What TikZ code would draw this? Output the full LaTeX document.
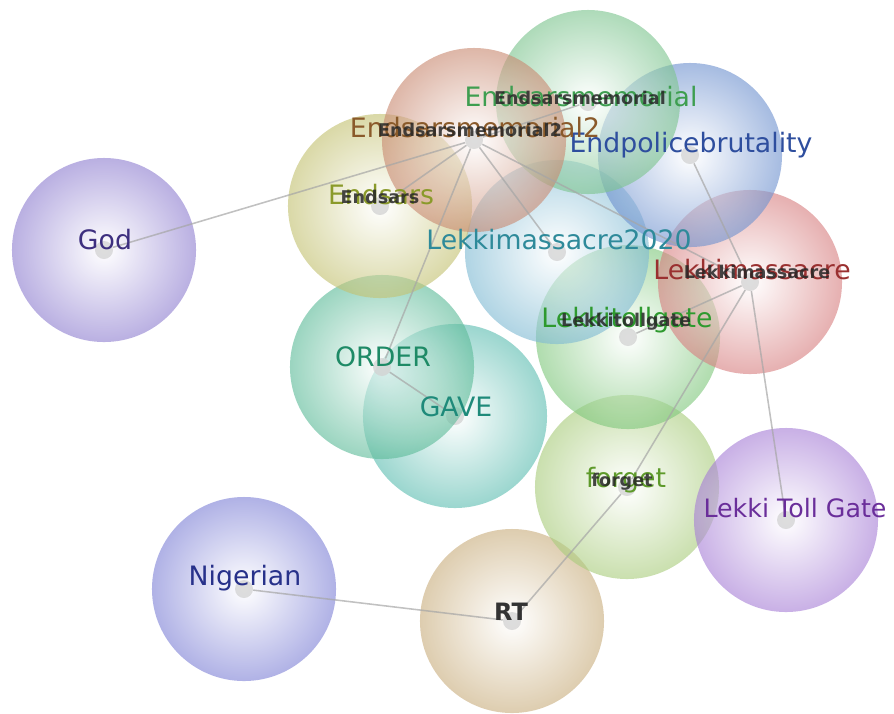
\documentclass[tikz,border=0pt]{standalone}
\usepackage{fontspec}
\setmainfont{DejaVu Sans}
% couleurs des bulles
\definecolor{bGod}{HTML}{8F7FD0}   \definecolor{tGod}{HTML}{3D2F7F}
\definecolor{bNig}{HTML}{7F82D6}   \definecolor{tNig}{HTML}{27318A}
\definecolor{bRT}{HTML}{C9AE7E}
\definecolor{bFor}{HTML}{A9CC7C}   \definecolor{tFor}{HTML}{5E9A2A}
\definecolor{bLTG}{HTML}{A77FD6}   \definecolor{tLTG}{HTML}{6A2E9A}
\definecolor{bLM}{HTML}{D77F80}    \definecolor{tLM}{HTML}{9A3030}
\definecolor{bLTo}{HTML}{7FC77C}   \definecolor{tLTo}{HTML}{2E9A2E}
\definecolor{bLMV}{HTML}{7FBAD3}   \definecolor{tLMV}{HTML}{2E8A9A}
\definecolor{bEPB}{HTML}{6F92CF}   \definecolor{tEPB}{HTML}{2E4E9E}
\definecolor{bESM}{HTML}{7CC48E}   \definecolor{tESM}{HTML}{3E9E50}
\definecolor{bESD}{HTML}{C98A72}   \definecolor{tESD}{HTML}{8A5A2A}
\definecolor{bES}{HTML}{C3C171}    \definecolor{tES}{HTML}{8A9A2A}
\definecolor{bOrd}{HTML}{5DBB99}   \definecolor{tOrd}{HTML}{1E8A66}
\definecolor{bGav}{HTML}{5DBDB1}   \definecolor{tGav}{HTML}{1E8A7A}
\newcommand{\bulle}[3]{% nom, position, couleur
  \shade[inner color=white, outer color=#3, opacity=0.62] (#2) circle (2.3cm);
  \node[noyau] (#1) at (#2) {};}

\begin{document}
\begin{tikzpicture}[x=0.025cm, y=-0.025cm,
    noyau/.style={circle, fill=gray!35, fill opacity=0.75, minimum size=0.45cm, inner sep=0pt},
    lien/.style={gray!70, line width=1.1pt, opacity=0.7},
    mot/.style={font=\fontsize{19}{22}\selectfont},
    petit/.style={font=\bfseries\fontsize{12.5}{15}\selectfont, text=black!85, opacity=0.85}]
  \useasboundingbox (0,0) rectangle (894,713);
  \bulle{god}{104,250}{bGod} \bulle{nig}{244,589}{bNig} \bulle{rt}{512,621}{bRT}
  \bulle{forget}{627,487}{bFor} \bulle{ltg}{786,520}{bLTG}
  \bulle{gave}{455,416}{bGav} \bulle{order}{382,367}{bOrd}
  \bulle{ltoll}{628,337}{bLTo} \bulle{lm2020}{557,252}{bLMV} \bulle{lm}{750,282}{bLM}
  \bulle{epb}{690,155}{bEPB} \bulle{endsars}{380,206}{bES}
  \bulle{esm}{588,102}{bESM} \bulle{esm2}{474,140}{bESD}
  % liens
  \draw[lien] (god) -- (esm2); \draw[lien] (esm2) -- (endsars); \draw[lien] (esm2) -- (order);
  \draw[lien] (esm2) -- (lm2020); \draw[lien] (esm2) -- (lm); \draw[lien] (esm2) -- (esm);
  \draw[lien] (order) -- (gave); \draw[lien] (epb) -- (lm); \draw[lien] (lm) -- (ltoll);
  \draw[lien] (lm) -- (ltg); \draw[lien] (lm) -- (forget); \draw[lien] (forget) -- (rt);
  \draw[lien] (nig) -- (rt);
  % etiquettes
  \node[mot, text=tGod] (godT) at (105,240) {God};
  \node[mot, text=tNig] (nigT) at (245,578) {Nigerian};
  \node[mot, text=black!80, font=\bfseries\fontsize{17}{20}\selectfont] (rtT) at (511,612) {RT};
  \node[mot, text=tFor] (forgetT) at (626,480) {forget};
  \node[petit] (forgetP) at (622,482) {forget};
  \node[mot, text=tLTG, font=\fontsize{18}{22}\selectfont] (ltgT) at (795,508) {Lekki Toll Gate};
  \node[mot, text=tLM] (lmT) at (752,270) {Lekkimassacre};
  \node[petit] (lmP) at (757,272) {Lekkimassacre};
  \node[mot, text=tLTo] (ltollT) at (627,320) {Lekkitollgate};
  \node[petit] (ltollP) at (626,322) {Lekkitollgate};
  \node[mot, text=tLMV] (lm2020T) at (559,240) {Lekkimassacre2020};
  \node[mot, text=tEPB] (epbT) at (691,145) {Endpolicebrutality};
  \node[mot, text=tESM] (esmT) at (581,97) {Endsarsmemorial};
  \node[petit] (esmP) at (580,98) {Endsarsmemorial};
  \node[mot, text=tESD] (esm2T) at (475,128) {Endsarsmemorial2};
  \node[petit] (esm2P) at (470,130) {Endsarsmemorial2};
  \node[mot, text=tES] (endsarsT) at (381,195) {Endsars};
  \node[petit] (endsarsP) at (380,197) {Endsars};
  \node[mot, text=tOrd] (orderT) at (383,357) {ORDER};
  \node[mot, text=tGav] (gaveT) at (456,407) {GAVE};
\end{tikzpicture}
\end{document}
